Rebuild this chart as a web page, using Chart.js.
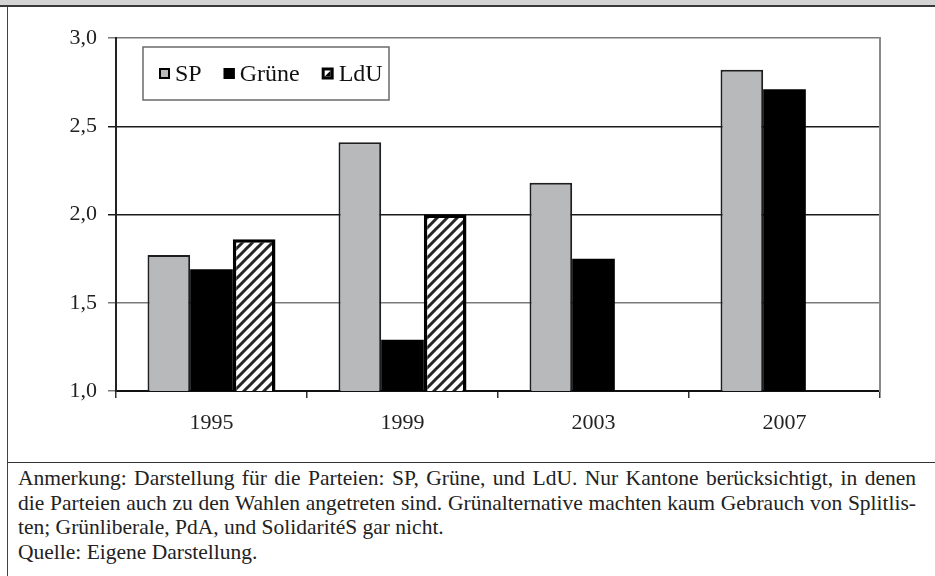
<!DOCTYPE html>
<html>
<head>
<meta charset="utf-8">
<script src="https://cdn.jsdelivr.net/npm/chart.js@4"></script>
<style>
  html, body { margin: 0; padding: 0; background: #fff; }
  body { width: 935px; height: 576px; position: relative; overflow: hidden; font-family: "Liberation Serif", "Times New Roman", "DejaVu Serif", serif; }
  #topbar { position: absolute; left: 0; top: 0; width: 935px; height: 5px; background: #d4d4d4; border-bottom: 2px solid #3a3a3a; }
  #frame { position: absolute; left: 7px; top: 7px; width: 928px; height: 569px; border-left: 1px solid #444; }
  #chart { position: absolute; left: 8px; top: 7px; }
  #divider { position: absolute; left: 7px; top: 462px; width: 928px; height: 0; border-top: 1.5px solid #333; }
  #note { position: absolute; left: 18px; top: 466px; width: 898px; font-size: 21.5px; line-height: 24.5px; color: #222; }
  #note div { white-space: nowrap; }
  #note .j { text-align: justify; text-align-last: justify; }
</style>
</head>
<body>
<div id="topbar"></div>
<div id="frame"></div>
<canvas id="chart" width="927" height="455"></canvas>
<div id="divider"></div>
<div id="note">
  <div class="j">Anmerkung: Darstellung für die Parteien: SP, Grüne, und LdU. Nur Kantone berücksichtigt, in denen</div>
  <div class="j">die Parteien auch zu den Wahlen angetreten sind. Grünalternative machten kaum Gebrauch von Splitlis-</div>
  <div>ten; Grünliberale, PdA, und SolidaritéS gar nicht.</div>
  <div>Quelle: Eigene Darstellung.</div>
</div>
<script>
// data
var years = ["1995", "1999", "2003", "2007"];
var spValues = [1.77, 2.41, 2.18, 2.82];
var grueneValues = [1.69, 1.29, 1.75, 2.71];
var lduValues = [1.86, 2.0, null, null];
var yTicks = [1.0, 1.5, 2.0, 2.5, 3.0];

var serif = "'Liberation Serif', 'Times New Roman', 'DejaVu Serif', serif";

// diagonal hatch for LdU
function makeHatch() {
  var c = document.createElement("canvas");
  c.width = 10; c.height = 10;
  var g = c.getContext("2d");
  g.fillStyle = "#fff";
  g.fillRect(0, 0, 10, 10);
  g.strokeStyle = "#262626";
  g.lineWidth = 3;
  g.beginPath();
  g.moveTo(-2, 12); g.lineTo(12, -2);
  g.moveTo(-7, 7); g.lineTo(7, -7);
  g.moveTo(3, 17); g.lineTo(17, 3);
  g.stroke();
  return g.createPattern(c, "repeat");
}

function gridColour(ctx) {
  var v = ctx.tick ? ctx.tick.value : 0;
  if (v === 2.0 || v === 2.5) return "#1a1a1a";
  return "#7a7a7a";
}

var boxLegend = {
  id: "boxLegend",
  afterDraw: function(chart) {
    var ctx = chart.ctx;
    var x0 = 135, y0 = 40, w = 246, h = 53;
    ctx.save();
    ctx.fillStyle = "#fff";
    ctx.fillRect(x0, y0, w, h);
    ctx.strokeStyle = "#6a6a6a";
    ctx.lineWidth = 1.5;
    ctx.strokeRect(x0, y0, w, h);
    ctx.font = "24px " + serif;
    ctx.textBaseline = "middle";
    var cy = y0 + h / 2;
    var x = x0 + 16;
    chart.data.datasets.forEach(function(ds, i) {
      var s = 11;
      if (i === 2) {
        s = 12;
        ctx.fillStyle = "#000";
        ctx.fillRect(x, cy - s / 2, s, s);
        ctx.fillStyle = "#fff";
        ctx.fillRect(x + 3, cy - s / 2 + 3, s - 6, s - 6);
        ctx.fillStyle = "#000";
        ctx.beginPath();
        ctx.moveTo(x + s - 3, cy - s / 2 + 3);
        ctx.lineTo(x + s - 3, cy + s / 2 - 3);
        ctx.lineTo(x + 3, cy + s / 2 - 3);
        ctx.closePath();
        ctx.fill();
      } else {
        ctx.fillStyle = ds.backgroundColor;
        ctx.fillRect(x, cy - s / 2, s, s);
        ctx.strokeStyle = "#000";
        ctx.lineWidth = 2;
        ctx.strokeRect(x + 1, cy - s / 2 + 1, s - 2, s - 2);
      }
      x += s + 5;
      ctx.fillStyle = "#111";
      ctx.fillText(ds.label, x, cy + 1);
      x += ctx.measureText(ds.label).width + 22;
    });
    ctx.restore();
  }
};

function drawChart() {
  var font22 = { family: serif, size: 22 };
  new Chart(document.getElementById("chart"), {
    type: "bar",
    data: {
      labels: years,
      datasets: [
        { label: "SP", data: spValues, backgroundColor: "#b8b9bb", borderColor: "#1e1e1e", borderWidth: 2 },
        { label: "Grüne", data: grueneValues, backgroundColor: "#000", borderColor: "#000", borderWidth: 0 },
        { label: "LdU", data: lduValues, backgroundColor: makeHatch(), borderColor: "#000", borderWidth: 3.5 }
      ]
    },
    options: {
      responsive: false,
      devicePixelRatio: 1,
      animation: false,
      categoryPercentage: 0.67,
      barPercentage: 1.0,
      layout: { padding: { left: 0, right: 55, top: 31, bottom: 0 } },
      plugins: { legend: { display: false }, tooltip: { enabled: false } },
      scales: {
        x: {
          offset: true,
          grid: { offset: true, drawOnChartArea: false, tickLength: 7, color: "#333", lineWidth: 1.5 },
          border: { color: "#111", width: 2 },
          ticks: { font: font22, color: "#222", padding: 12 },
          afterFit: function(s) { s.height = 71; }
        },
        y: {
          min: 1, max: 3,
          afterBuildTicks: function(s) { s.ticks = yTicks.map(function(v) { return { value: v }; }); },
          grid: { color: gridColour, lineWidth: 1.5, tickLength: 8 },
          border: { color: "#222", width: 2 },
          ticks: {
            font: font22, color: "#222", padding: 11,
            callback: function(v) { return v.toFixed(1).replace(".", ","); }
          },
          afterFit: function(s) { s.width = 108; }
        },
        yRight: {
          position: "right",
          min: 1, max: 3,
          grid: { drawOnChartArea: false, drawTicks: false },
          border: { color: "#8a8a8a", width: 2 },
          ticks: { display: false },
          afterFit: function(s) { s.width = 0; }
        }
      }
    },
    plugins: [boxLegend]
  });
}

Promise.all([
  document.fonts.load("22px 'Liberation Serif'"),
  document.fonts.load("24px 'Liberation Serif'")
]).then(drawChart, drawChart);
</script>
</body>
</html>
